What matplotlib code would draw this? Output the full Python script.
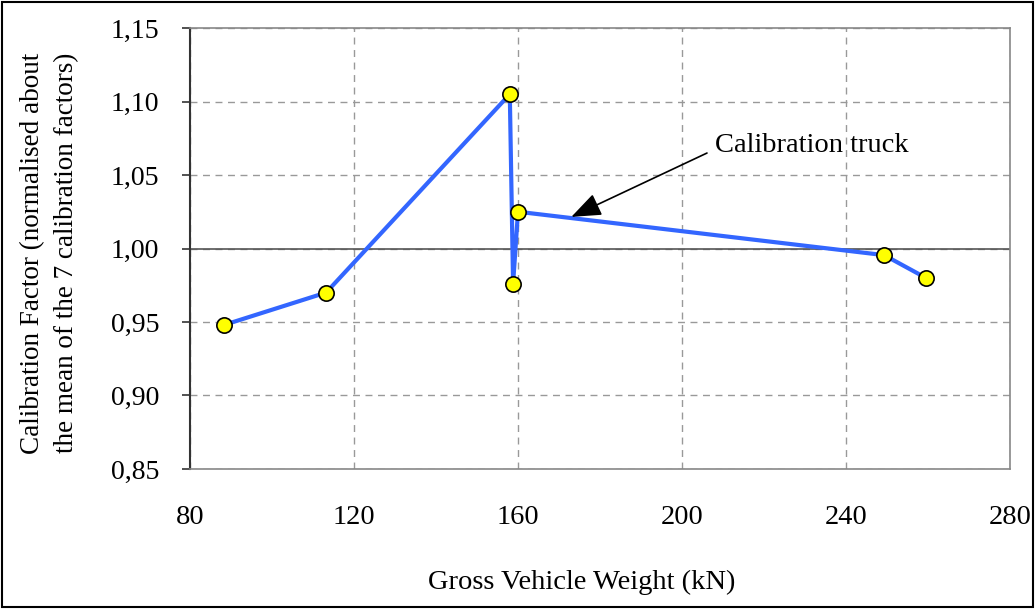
import matplotlib
matplotlib.use("Agg")
import matplotlib.pyplot as plt
from matplotlib.patches import Rectangle
from matplotlib.ticker import FuncFormatter

# data
gvw = [88.3, 113.2, 158.0, 158.8, 160.0, 249.3, 259.5]
factor = [0.948, 0.970, 1.105, 0.976, 1.025, 0.9955, 0.980]
x_ticks = [80, 120, 160, 200, 240, 280]
y_ticks = [0.85, 0.90, 0.95, 1.00, 1.05, 1.10, 1.15]

plt.rcParams.update({
    "font.family": ["Liberation Serif", "DejaVu Serif"],
    "font.size": 20.5,
})

fig = plt.figure(figsize=(10.36, 6.09), dpi=100)
ax = fig.add_axes([0.1834, 0.2299, 0.7915, 0.7241])

ax.set_xlim(80, 280)
ax.set_ylim(0.85, 1.15)
ax.set_xticks(x_ticks)
ax.set_yticks(y_ticks)
ax.yaxis.set_major_formatter(FuncFormatter(lambda v, p: f"{v:.2f}".replace(".", ",")))

ax.grid(True, color="#999999", linestyle=(0, (5, 4)), linewidth=1)
ax.axhline(1.0, color="#555555", linewidth=1.2, zorder=2)

for s in ["top", "right", "bottom"]:
    ax.spines[s].set_color("#888888")
    ax.spines[s].set_linewidth(1.2)
ax.spines["left"].set_color("#333333")
ax.spines["left"].set_linewidth(1.5)

ax.tick_params(axis="x", length=0, pad=26, labelsize=20.5)
ax.tick_params(axis="y", length=6, width=1.2, color="#333333", pad=16, labelsize=20)

ax.plot(gvw, factor, color="#3366FF", linewidth=3, zorder=3)
ax.plot(gvw, factor, linestyle="none", marker="o", markersize=11,
        markerfacecolor="#FFFF00", markeredgecolor="black", markeredgewidth=1.2, zorder=4)

ax.annotate("Calibration truck", xy=(173.0, 1.0215), xytext=(208, 1.070),
            va="center", ha="left",
            arrowprops=dict(arrowstyle="-|>,head_length=0.9,head_width=0.35",
                            color="black", linewidth=1.2, shrinkA=4, shrinkB=0,
                            relpos=(0, 0.35)))

ax.set_xlabel("Gross Vehicle Weight (kN)", labelpad=27)
ax.xaxis.set_label_coords(0.478, -0.229)
ax.set_ylabel("Calibration Factor (normalised about\nthe mean of the 7 calibration factors)",
              labelpad=19, linespacing=1.5, fontsize=19.5)
ax.yaxis.set_label_coords(-0.135, 0.49)

fig.patches.append(Rectangle((0.002, 0.003), 0.995, 0.994, transform=fig.transFigure,
                             fill=False, edgecolor="black", linewidth=1.5))

fig.savefig("out.png", dpi=100)
